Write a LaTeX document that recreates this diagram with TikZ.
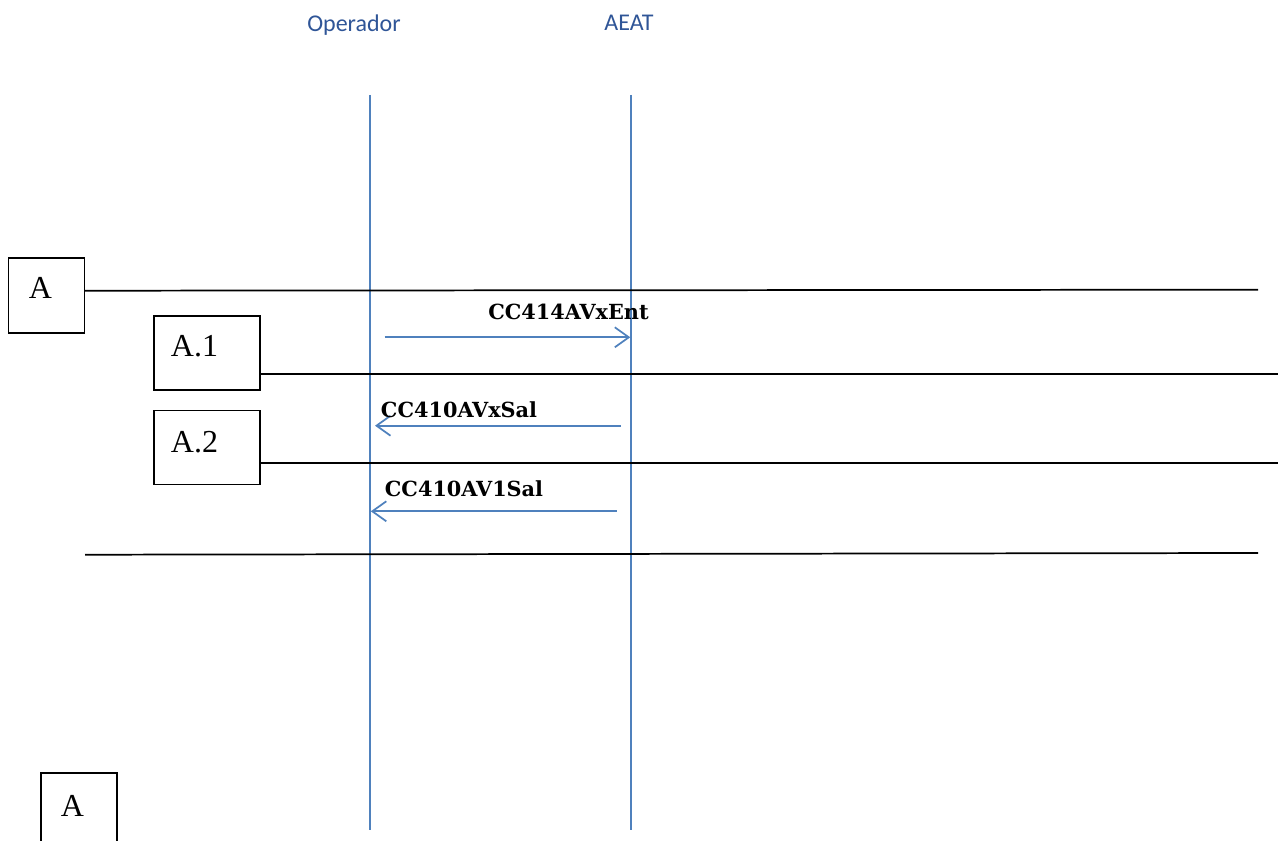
\documentclass[tikz,border=0pt]{standalone}
\usepackage{fontspec}
\usetikzlibrary{calc, arrows.meta, math}
\newfontfamily\headfont{Carlito}
\newfontfamily\boxfont{Liberation Serif}
\newfontfamily\msgfont{DejaVu Serif}
\definecolor{lifeblue}{RGB}{79,129,189}
\definecolor{headblue}{RGB}{47,85,151}

\begin{document}
\begin{tikzpicture}[x=0.75pt, y=-0.75pt, >={Straight Barb[length=10.5pt, width=15pt]},
  box/.style={draw, line width=1pt, inner sep=0pt},
  boxtxt/.style={font=\boxfont\fontsize{24}{28}\selectfont, anchor=base, inner sep=0pt},
  head/.style={font=\headfont\fontsize{18}{22}\selectfont, text=headblue, anchor=base, inner sep=0pt},
  msg/.style={font=\msgfont\bfseries\fontsize{15.6}{18}\selectfont, anchor=base, inner sep=0pt},
  life/.style={draw=lifeblue, line width=1.3pt},
  sep/.style={draw, line width=1.3pt}]

\tikzmath{
      \xop = 369.8; \xae = 631.3;
      \ytop = 95; \ybot = 830;
      }

\useasboundingbox (0,0) rectangle (1278,841);
\clip (0,0) rectangle (1278,841);

% heads and lifelines
\node[head] (op) at (354,32) {Operador};
\node[head] (ae) at (629,31) {AEAT};
\coordinate (opT) at (\xop,\ytop);
\coordinate (opB) at (\xop,\ybot);
\coordinate (aeT) at (\xae,\ytop);
\coordinate (aeB) at (\xae,\ybot);
\draw[life] (opT) -- (opB);
\draw[life] (aeT) -- (aeB);

% boxes
\node[box, minimum width=57pt, minimum height=56.25pt] (boxA) at (46.5,295.5) {};
\node[boxtxt] (txtA) at (40.5,299) {A};
\node[box, minimum width=79.5pt, minimum height=55.5pt] (boxA1) at (207,353) {};
\node[boxtxt] (txtA1) at (194.5,357) {A.1};
\node[box, minimum width=79.5pt, minimum height=55.5pt] (boxA2) at (207,447.5) {};
\node[boxtxt] (txtA2) at (194.5,452) {A.2};
\node[box, minimum width=57pt, minimum height=75pt] (boxAb) at (79,823) {};
\node[boxtxt] (txtAb) at (72.5,816) {A};

% separators
\coordinate (endA) at (1258,289.7);
\coordinate (endA1) at (1278,374.3);
\coordinate (endA2) at (1278,462.7);
\coordinate (begB) at (85,554.7);
\coordinate (endB) at (1258,553);
\draw[sep] (boxA.east |- 0,290.7) -- (endA);
\draw[sep] (boxA1.east |- endA1) -- (endA1);
\draw[sep] (boxA2.east |- endA2) -- (endA2);
\draw[sep] (begB) -- (endB);

% messages
\coordinate (m1s) at (384.5,337.3);
\coordinate (m1e) at (\xae - 1,337.3);
\coordinate (m2s) at (620.5,425.7);
\coordinate (m2e) at (375,425.7);
\coordinate (m3s) at (616.5,511.3);
\coordinate (m3e) at (\xop + 1,511.3);
\draw[life, ->] (m1s) -- (m1e);
\draw[life, ->] (m2s) -- (m2e);
\draw[life, ->] (m3s) -- (m3e);
\node[msg] (lbl1) at (568.5,320) {CC414AVxEnt};
\node[msg] (lbl2) at (459,417.7) {CC410AVxSal};
\node[msg] (lbl3) at (464,496) {CC410AV1Sal};

\end{tikzpicture}
\end{document}
